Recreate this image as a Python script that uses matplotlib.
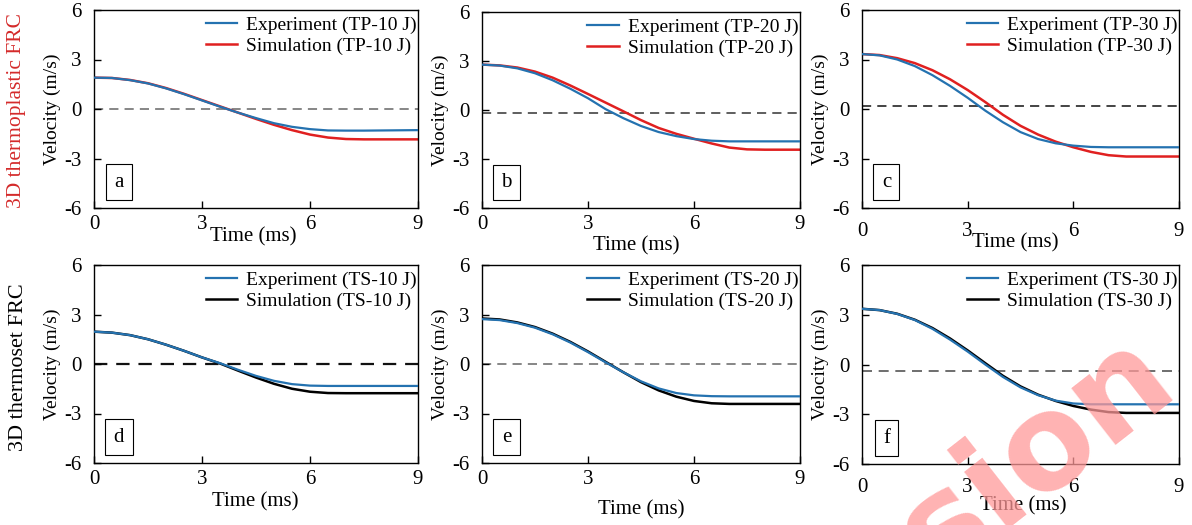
import numpy as np
from matplotlib import pyplot as plt

plt.rcParams['font.family'] = ['Liberation Serif', 'DejaVu Serif']
plt.rcParams['axes.unicode_minus'] = False

# time axis (ms)
t = [0, 0.5, 1, 1.5, 2, 2.5, 3, 3.5, 4, 4.5, 5, 5.5, 6, 6.5, 7, 7.5, 8, 8.5, 9]

# 3D thermoplastic FRC
exp_tp10 = [1.90, 1.88, 1.75, 1.55, 1.25, 0.90, 0.52, 0.14, -0.22, -0.55, -0.86, -1.08, -1.22, -1.30, -1.31, -1.31, -1.30, -1.29, -1.28]
sim_tp10 = [1.90, 1.88, 1.76, 1.56, 1.27, 0.92, 0.54, 0.16, -0.22, -0.60, -0.96, -1.28, -1.55, -1.73, -1.82, -1.84, -1.84, -1.84, -1.84]
exp_tp20 = [2.78, 2.72, 2.55, 2.25, 1.82, 1.30, 0.72, 0.05, -0.50, -0.98, -1.35, -1.60, -1.78, -1.88, -1.92, -1.92, -1.92, -1.92, -1.92]
sim_tp20 = [2.78, 2.73, 2.60, 2.35, 1.98, 1.50, 0.98, 0.45, -0.08, -0.62, -1.10, -1.46, -1.76, -2.05, -2.30, -2.41, -2.43, -2.43, -2.43]
exp_tp30 = [3.33, 3.25, 3.00, 2.60, 2.05, 1.40, 0.68, -0.10, -0.80, -1.40, -1.82, -2.08, -2.22, -2.30, -2.32, -2.32, -2.32, -2.32, -2.32]
sim_tp30 = [3.33, 3.27, 3.08, 2.78, 2.35, 1.80, 1.15, 0.42, -0.35, -1.02, -1.55, -1.98, -2.32, -2.60, -2.80, -2.88, -2.88, -2.88, -2.88]

# 3D thermoset FRC
exp_ts10 = [1.96, 1.90, 1.75, 1.50, 1.17, 0.80, 0.40, 0.05, -0.35, -0.72, -1.02, -1.22, -1.31, -1.33, -1.33, -1.33, -1.33, -1.33, -1.33]
sim_ts10 = [1.96, 1.90, 1.75, 1.50, 1.17, 0.80, 0.40, 0.03, -0.40, -0.82, -1.20, -1.50, -1.68, -1.76, -1.77, -1.77, -1.77, -1.77, -1.77]
exp_ts20 = [2.72, 2.66, 2.48, 2.20, 1.80, 1.30, 0.72, 0.10, -0.50, -1.05, -1.48, -1.76, -1.90, -1.95, -1.96, -1.96, -1.96, -1.96, -1.96]
sim_ts20 = [2.76, 2.70, 2.52, 2.24, 1.84, 1.34, 0.76, 0.13, -0.50, -1.10, -1.60, -1.98, -2.24, -2.38, -2.42, -2.42, -2.42, -2.42, -2.42]
exp_ts30 = [3.36, 3.28, 3.05, 2.68, 2.15, 1.50, 0.78, 0.00, -0.75, -1.38, -1.85, -2.18, -2.35, -2.40, -2.40, -2.40, -2.40, -2.40, -2.40]
sim_ts30 = [3.36, 3.28, 3.06, 2.70, 2.20, 1.57, 0.85, 0.08, -0.68, -1.32, -1.82, -2.20, -2.50, -2.72, -2.87, -2.92, -2.92, -2.92, -2.92]

# dashed reference line level of each panel
ref_lvl = [0.0, -0.18, 0.18, 0.0, 0.0, -0.4]

panel_ids = ['a', 'b', 'c', 'd', 'e', 'f']
exp_names = ['TP-10 J', 'TP-20 J', 'TP-30 J', 'TS-10 J', 'TS-20 J', 'TS-30 J']
exps = [exp_tp10, exp_tp20, exp_tp30, exp_ts10, exp_ts20, exp_ts30]
sims = [sim_tp10, sim_tp20, sim_tp30, sim_ts10, sim_ts20, sim_ts30]

xticks = [0, 3, 6, 9]
yticks = [-6, -3, 0, 3, 6]

W, H = 1192, 525
fig = plt.figure(figsize=(W/100, H/100), dpi=100)

# axes boxes in pixels: left, top, right, bottom
boxes = [(94, 10, 418, 208), (482, 12, 800, 208), (862, 10, 1179, 208),
         (94, 265, 418, 463), (482, 265, 800, 463), (862, 265, 1179, 464)]
xlab_pos = [(0.49, -0.145), (0.486, -0.195), (0.483, -0.177),
            (0.497, -0.194), (0.502, -0.236), (0.508, -0.21)]
xpad = [5, 5, 10, 5, 5, 10]
ref_col = ['#666666', '#333333', '#111111', '#111111', '#666666', '#555555']
ref_lw = [1.1, 1.1, 1.1, 1.6, 1.1, 1.2]

blue = '#2472b0'
red = '#e02020'

for i in range(6):
    l, tp, r, b = boxes[i]
    ax = fig.add_axes([l/W, 1-b/H, (r-l)/W, (b-tp)/H])
    sim_col = red if i < 3 else 'black'
    ax.axhline(ref_lvl[i], color=ref_col[i], lw=ref_lw[i], ls=(0, (6, 4)), zorder=1)
    ax.plot(t, exps[i], color=blue, lw=1.6, label='Experiment (%s)' % exp_names[i], zorder=3)
    ax.plot(t, sims[i], color=sim_col, lw=1.8, label='Simulation (%s)' % exp_names[i], zorder=2)
    ax.set_xlim(0, 9)
    ax.set_ylim(-6, 6)
    ax.set_xticks(xticks)
    ax.set_xticklabels([str(v) for v in xticks])
    ax.set_yticks(yticks)
    ax.set_yticklabels([str(v) for v in yticks])
    ax.tick_params(direction='in', length=5, width=1, labelsize=15)
    ax.tick_params(axis='x', pad=xpad[i])
    ax.tick_params(axis='y', pad=9)
    for s in ax.spines.values():
        s.set_linewidth(1.0)
    ax.set_xlabel('Time (ms)', fontsize=15, va='center')
    ax.xaxis.set_label_coords(*xlab_pos[i])
    ax.set_ylabel('Velocity (m/s)', fontsize=14, va='center')
    ax.yaxis.set_label_coords(-0.13, 0.5)
    ax.legend(loc='upper right', bbox_to_anchor=(1.015, 1.0), frameon=False,
              fontsize=14, handlelength=1.6, handletextpad=0.5,
              labelspacing=0.2, borderpad=0.2, borderaxespad=0.1)
    ax.text(0.077, 0.13, panel_ids[i], transform=ax.transAxes, fontsize=15,
            ha='center', va='center',
            bbox=dict(boxstyle='square,pad=0.4', fc='white', ec='black', lw=0.8))

fig.text(17/W, 1-111/H, '3D thermoplastic FRC', rotation=90, ha='center', va='center',
         fontsize=15.5, color='#d42a2a')
fig.text(19/W, 1-367/H, '3D thermoset FRC', rotation=90, ha='center', va='center',
         fontsize=16, color='black')

# watermark fragment
fig.text(1036/W, 1-456/H, 'sion', rotation=38, ha='center', va='center',
         rotation_mode='anchor', fontsize=95, fontweight='bold',
         family='DejaVu Sans', color='#ff9999', alpha=0.75, zorder=10)

fig.savefig('out.png', dpi=100)
